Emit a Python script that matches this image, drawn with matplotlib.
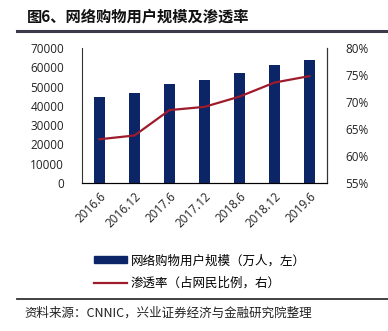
import matplotlib.pyplot as plt
from matplotlib.lines import Line2D
from matplotlib.patches import Patch

plt.rcParams['font.family'] = ['Open Sans', 'Noto Sans CJK SC', 'DejaVu Sans']

periods = ['2016.6', '2016.12', '2017.6', '2017.12', '2018.6', '2018.12', '2019.6']
users = [44772, 46670, 51443, 53332, 56892, 61011, 63882]
rate = [63.1, 63.8, 68.5, 69.1, 71.0, 73.6, 74.8]

bar_color = '#0b2566'
line_color = '#9e1b2c'
cjk = ['Noto Sans CJK SC', 'DejaVu Sans']

fig = plt.figure(figsize=(3.88, 3.31), dpi=100)
ax = fig.add_axes([82 / 388, 1 - 183 / 331, 245 / 388, 135 / 331])
x = range(len(periods))
ax.bar(x, users, width=0.33, color=bar_color)
ax.set_ylim(0, 70000)
ax.set_xlim(-0.5, len(periods) - 0.5)
ax.set_yticks(range(0, 70001, 10000))
ax.set_xticks(list(x))
ax.set_xticklabels(periods, rotation=45, ha='right', rotation_mode='anchor')
ax.tick_params(length=0, labelsize=8.5, colors='#222222')
ax.tick_params(axis='y', pad=13)
ax.tick_params(axis='x', pad=5)
for s in ['left', 'bottom', 'right']:
    ax.spines[s].set_color('#333333')
    ax.spines[s].set_linewidth(0.8)
ax.spines['top'].set_visible(False)

ax2 = ax.twinx()
ax2.plot(x, rate, color=line_color, lw=1.6)
ax2.set_ylim(55, 80)
ax2.set_yticks(range(55, 81, 5))
ax2.set_yticklabels([f'{v}%' for v in range(55, 81, 5)])
ax2.tick_params(length=0, labelsize=8.5, colors='#222222', pad=13)
ax2.spines['top'].set_visible(False)
ax2.spines['right'].set_color('#333333')
ax2.spines['right'].set_linewidth(0.8)
ax2.spines['left'].set_visible(False)

fig.text(27 / 388, 1 - 17 / 331, '图6、网络购物用户规模及渗透率', family=cjk,
         fontsize=11, fontweight='bold', va='center', color='#111111')
fig.add_artist(Line2D([17 / 388, 388 / 388], [1 - 31 / 331] * 2, color='#3a3a4a', lw=2.2))

handles = [Patch(color=bar_color), Line2D([], [], color=line_color, lw=1.6)]
labels = ['网络购物用户规模（万人，左）', '渗透率（占网民比例，右）']
fig.legend(handles, labels, loc='upper left', bbox_to_anchor=(83 / 388, 1 - 243 / 331),
           frameon=False, prop={'family': cjk, 'size': 9}, handlelength=2.6,
           handleheight=0.5, labelspacing=0.75, handletextpad=0.3)

fig.add_artist(Line2D([17 / 388, 388 / 388], [1 - 299 / 331] * 2, color='#333333', lw=1.3))
fig.text(24 / 388, 1 - 313 / 331, '资料来源：CNNIC，兴业证券经济与金融研究院整理', family=cjk,
         fontsize=9, va='center', color='#222222')

fig.savefig('out.png', dpi=100)
